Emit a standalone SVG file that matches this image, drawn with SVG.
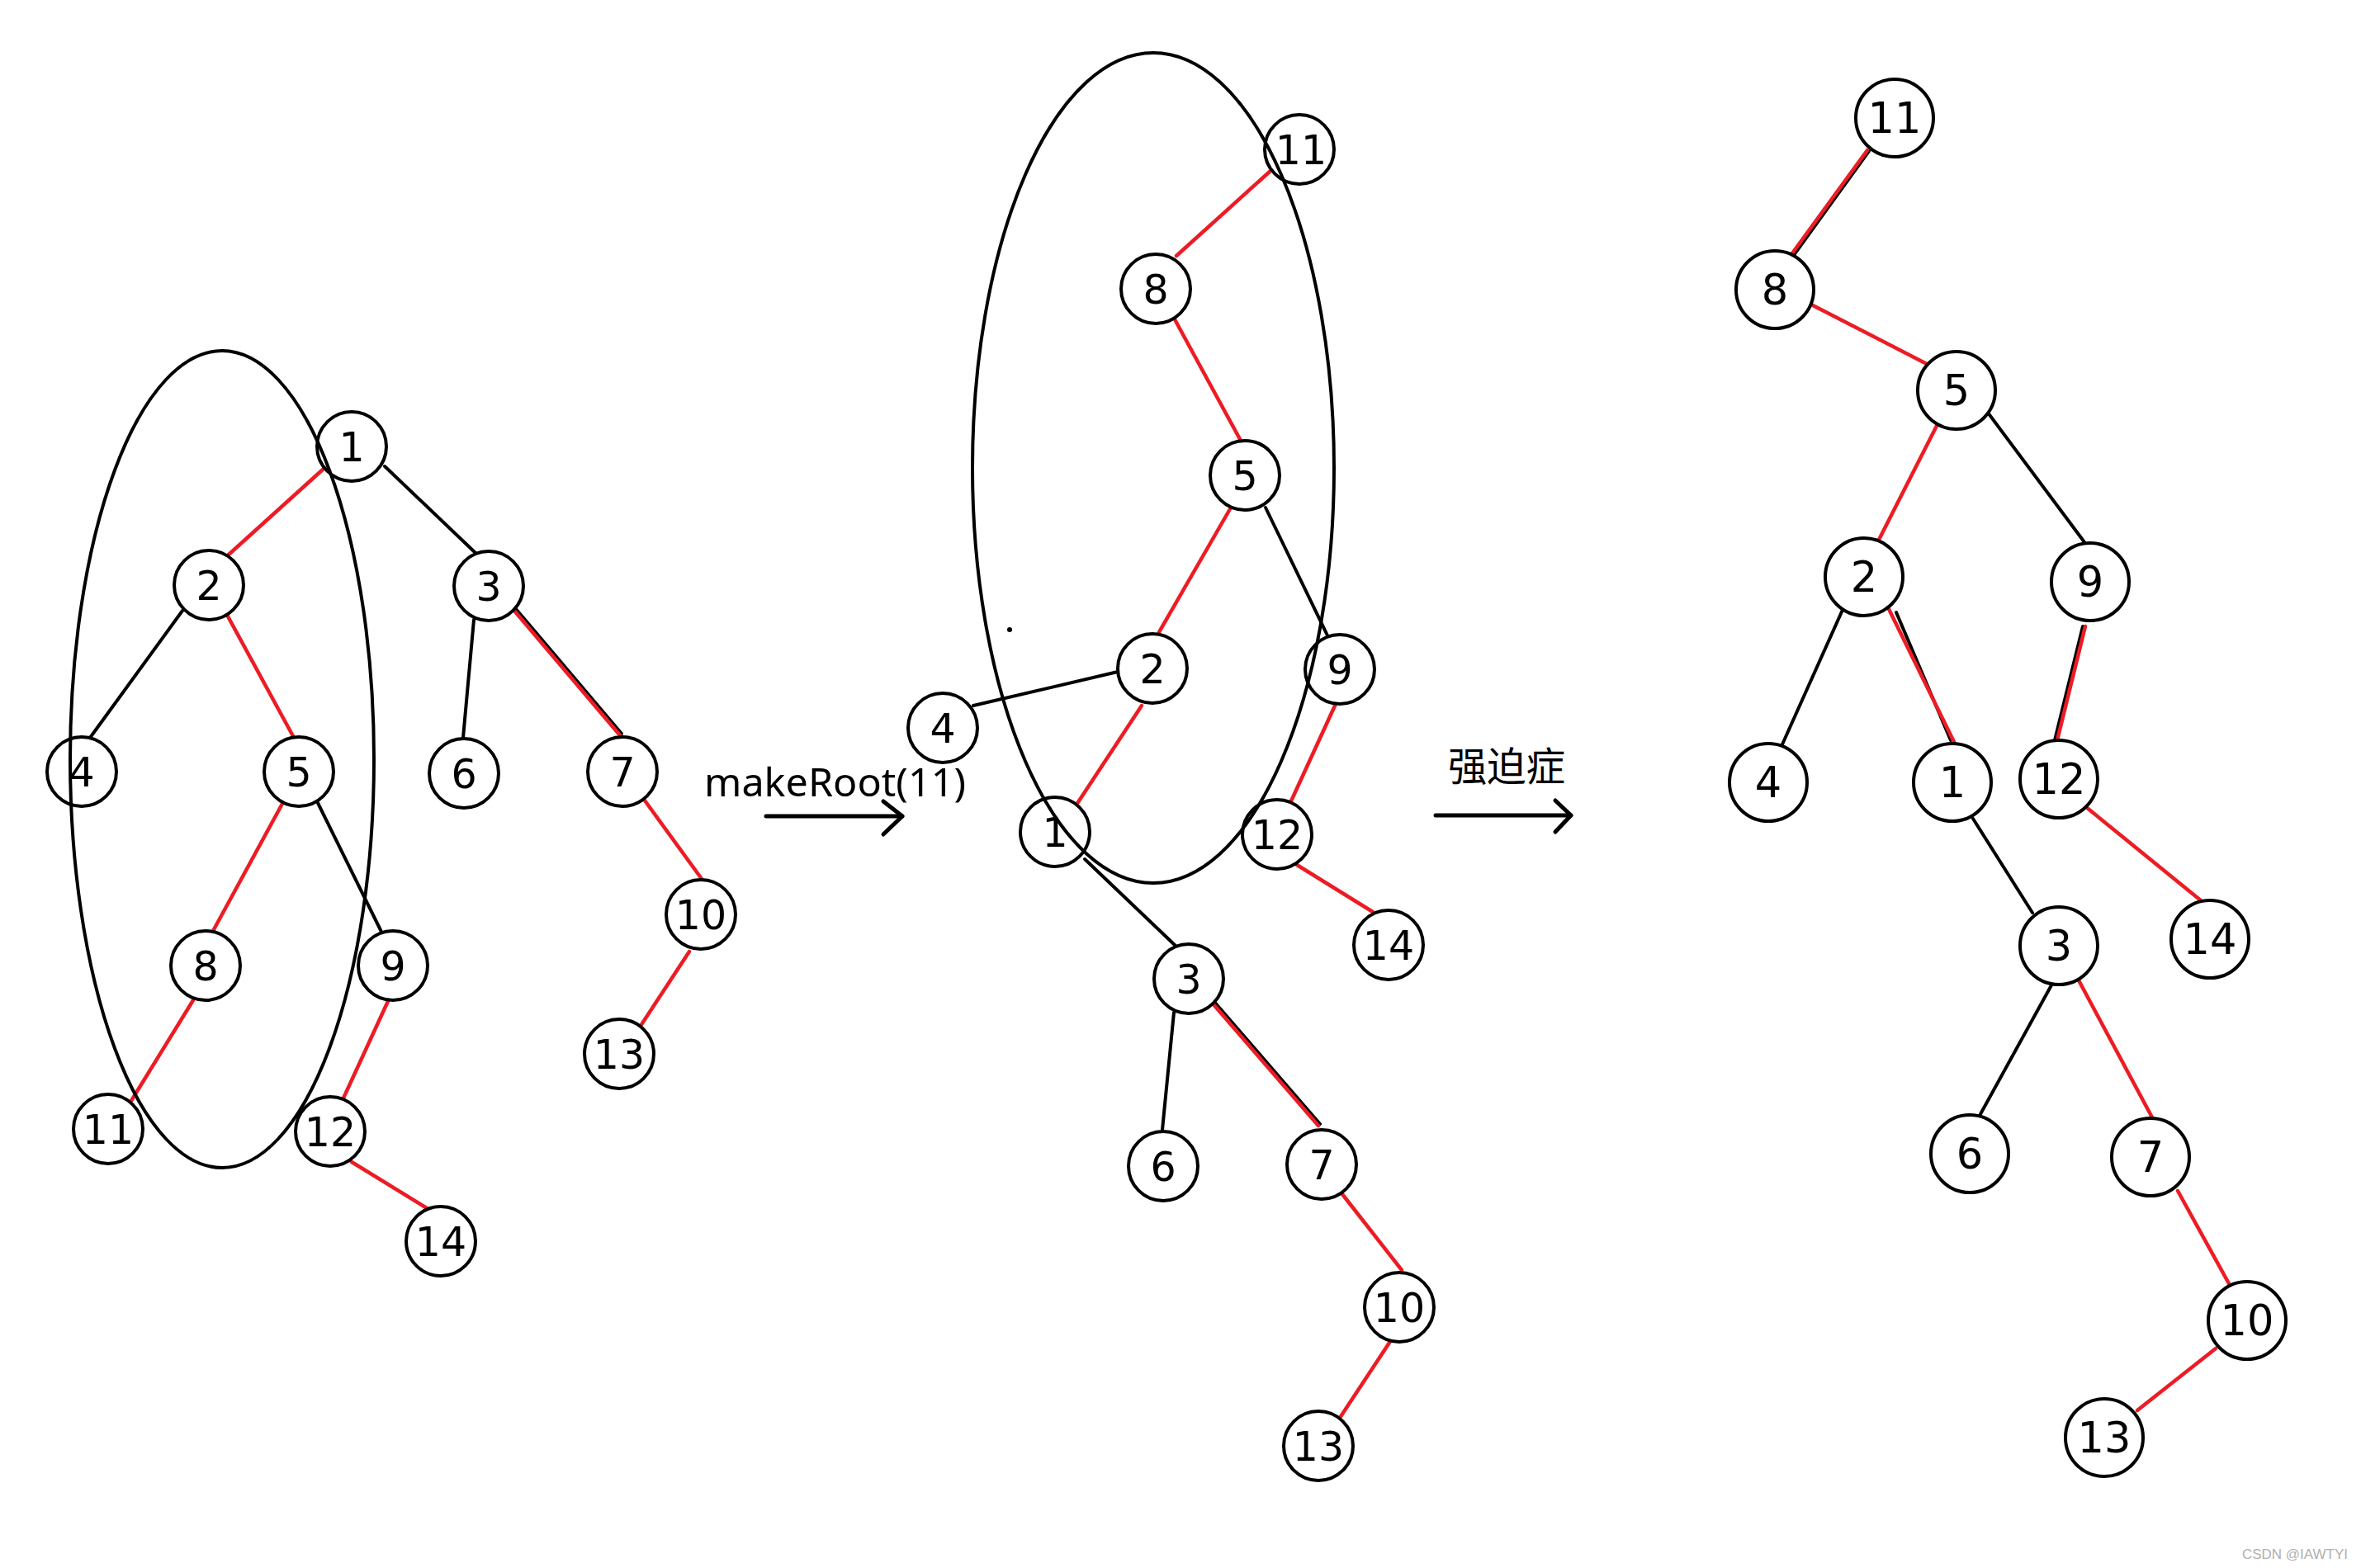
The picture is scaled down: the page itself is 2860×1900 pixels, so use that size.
<svg xmlns="http://www.w3.org/2000/svg" width="2860" height="1900" viewBox="0 0 2860 1900">
<style>
.n{fill:#fff;stroke:#000;stroke-width:4}
.t{font-family:"DejaVu Sans",sans-serif;font-size:49px;text-anchor:middle;fill:#000}
.tr{font-size:51px}
.r{stroke:#ED1C24;stroke-width:4.5;stroke-linecap:round}
.k{stroke:#000;stroke-width:4;stroke-linecap:round}
.e{fill:none;stroke:#000;stroke-width:4}
.a{fill:none;stroke:#000;stroke-width:5;stroke-linecap:round;stroke-linejoin:round}
.lbl{font-family:"Noto Sans","DejaVu Sans",sans-serif;font-size:48px;fill:#000}
</style>
<rect width="2860" height="1900" fill="#fff"/>
<g id="connectors">
<!-- left tree -->
<line class="r" x1="392" y1="568" x2="277" y2="672"/>
<line class="k" x1="466" y1="565" x2="576" y2="670"/>
<line class="k" x1="221" y1="740" x2="109" y2="894"/>
<line class="r" x1="275" y1="745" x2="355" y2="892"/>
<line class="k" x1="574" y1="751" x2="561" y2="894"/>
<line class="k" x1="625" y1="738" x2="753" y2="889"/>
<line class="r" x1="623" y1="740" x2="751" y2="891"/>
<line class="r" x1="343" y1="972" x2="257" y2="1130"/>
<line class="k" x1="385" y1="973" x2="462" y2="1129"/>
<line class="r" x1="781" y1="970" x2="850" y2="1065"/>
<line class="r" x1="234" y1="1212" x2="157" y2="1337"/>
<line class="r" x1="471" y1="1211" x2="414" y2="1335"/>
<line class="r" x1="835" y1="1153" x2="776" y2="1243"/>
<line class="r" x1="426" y1="1408" x2="517" y2="1464"/>
<!-- middle tree -->
<line class="r" x1="1538" y1="208" x2="1425" y2="310"/>
<line class="r" x1="1423" y1="387" x2="1503" y2="534"/>
<line class="r" x1="1491" y1="615" x2="1404" y2="766"/>
<line class="k" x1="1533" y1="615" x2="1608" y2="770"/>
<line class="k" x1="1354" y1="814" x2="1179" y2="855"/>
<line class="r" x1="1383" y1="855" x2="1304" y2="975"/>
<line class="r" x1="1618" y1="853" x2="1562" y2="975"/>
<line class="r" x1="1571" y1="1048" x2="1663" y2="1105"/>
<line class="k" x1="1314" y1="1041" x2="1424" y2="1146"/>
<line class="k" x1="1422" y1="1227" x2="1408" y2="1369"/>
<line class="k" x1="1471" y1="1214" x2="1599" y2="1362"/>
<line class="r" x1="1469" y1="1216" x2="1597" y2="1364"/>
<line class="r" x1="1626" y1="1447" x2="1698" y2="1539"/>
<line class="r" x1="1683" y1="1627" x2="1623" y2="1718"/>
<!-- right tree -->
<line class="k" x1="2264" y1="183" x2="2173" y2="309"/>
<line class="r" x1="2262" y1="182" x2="2171" y2="307"/>
<line class="r" x1="2194" y1="369" x2="2334" y2="441"/>
<line class="r" x1="2346" y1="516" x2="2276" y2="654"/>
<line class="k" x1="2408" y1="500" x2="2525" y2="657"/>
<line class="k" x1="2232" y1="739" x2="2159" y2="902"/>
<line class="k" x1="2297" y1="742" x2="2363" y2="897"/>
<line class="r" x1="2288" y1="738" x2="2367" y2="899"/>
<line class="k" x1="2523" y1="759" x2="2489" y2="897"/>
<line class="r" x1="2526" y1="759" x2="2492" y2="897"/>
<line class="r" x1="2527" y1="978" x2="2667" y2="1092"/>
<line class="k" x1="2390" y1="992" x2="2462" y2="1106"/>
<line class="k" x1="2486" y1="1192" x2="2399" y2="1350"/>
<line class="r" x1="2517" y1="1186" x2="2607" y2="1354"/>
<line class="r" x1="2638" y1="1443" x2="2702" y2="1559"/>
<line class="r" x1="2684" y1="1634" x2="2589" y2="1709"/>
<!-- arrows -->
<line class="a" x1="928" y1="989" x2="1093" y2="989"/>
<polyline class="a" points="1070,971 1093,989 1070,1011"/>
<line class="a" x1="1739" y1="988" x2="1903" y2="988"/>
<polyline class="a" points="1884,970 1903,988 1884,1008"/>
</g>
<!-- left tree nodes -->
<g id="L1"><circle class="n" cx="426" cy="541" r="42"/><text class="t" x="426" y="559">1</text></g>
<g id="L2"><circle class="n" cx="253" cy="709" r="42"/><text class="t" x="253" y="727">2</text></g>
<g id="L3"><circle class="n" cx="592" cy="710" r="42"/><text class="t" x="592" y="728">3</text></g>
<g id="L4"><circle class="n" cx="99" cy="935" r="42"/><text class="t" x="99" y="953">4</text></g>
<g id="L5"><circle class="n" cx="362" cy="935" r="42"/><text class="t" x="362" y="953">5</text></g>
<g id="L6"><circle class="n" cx="562" cy="937" r="42"/><text class="t" x="562" y="955">6</text></g>
<g id="L7"><circle class="n" cx="754" cy="935" r="42"/><text class="t" x="754" y="953">7</text></g>
<g id="L8"><circle class="n" cx="249" cy="1170" r="42"/><text class="t" x="249" y="1188">8</text></g>
<g id="L9"><circle class="n" cx="476" cy="1170" r="42"/><text class="t" x="476" y="1188">9</text></g>
<g id="L10"><circle class="n" cx="849" cy="1108" r="42"/><text class="t" x="849" y="1126">10</text></g>
<g id="L11"><circle class="n" cx="131" cy="1368" r="42"/><text class="t" x="131" y="1386">11</text></g>
<g id="L12"><circle class="n" cx="400" cy="1371" r="42"/><text class="t" x="400" y="1389">12</text></g>
<g id="L13"><circle class="n" cx="750" cy="1277" r="42"/><text class="t" x="750" y="1295">13</text></g>
<g id="L14"><circle class="n" cx="534" cy="1504" r="42"/><text class="t" x="534" y="1522">14</text></g>
<!-- middle tree nodes -->
<g id="M11"><circle class="n" cx="1574" cy="181" r="42"/><text class="t" x="1576" y="199">11</text></g>
<g id="M8"><circle class="n" cx="1400" cy="350" r="42"/><text class="t" x="1400" y="368">8</text></g>
<g id="M5"><circle class="n" cx="1508" cy="576" r="42"/><text class="t" x="1508" y="594">5</text></g>
<g id="M2"><circle class="n" cx="1396" cy="810" r="42"/><text class="t" x="1396" y="828">2</text></g>
<g id="M9"><circle class="n" cx="1623" cy="811" r="42"/><text class="t" x="1623" y="829">9</text></g>
<g id="M4"><circle class="n" cx="1142" cy="882" r="42"/><text class="t" x="1142" y="900">4</text></g>
<g id="M1"><circle class="n" cx="1278" cy="1008" r="42"/><text class="t" x="1278" y="1026">1</text></g>
<g id="M12"><circle class="n" cx="1547" cy="1011" r="42"/><text class="t" x="1547" y="1029">12</text></g>
<g id="M14"><circle class="n" cx="1682" cy="1145" r="42"/><text class="t" x="1682" y="1163">14</text></g>
<g id="M3"><circle class="n" cx="1440" cy="1186" r="42"/><text class="t" x="1440" y="1204">3</text></g>
<g id="M6"><circle class="n" cx="1409" cy="1413" r="42"/><text class="t" x="1409" y="1431">6</text></g>
<g id="M7"><circle class="n" cx="1601" cy="1411" r="42"/><text class="t" x="1601" y="1429">7</text></g>
<g id="M10"><circle class="n" cx="1695" cy="1584" r="42"/><text class="t" x="1695" y="1602">10</text></g>
<g id="M13"><circle class="n" cx="1597" cy="1752" r="42"/><text class="t" x="1597" y="1770">13</text></g>
<!-- right tree nodes -->
<g id="R11"><circle class="n" cx="2295" cy="143" r="47"/><text class="t tr" x="2295" y="161">11</text></g>
<g id="R8"><circle class="n" cx="2150" cy="351" r="47"/><text class="t tr" x="2150" y="369">8</text></g>
<g id="R5"><circle class="n" cx="2370" cy="473" r="47"/><text class="t tr" x="2370" y="491">5</text></g>
<g id="R2"><circle class="n" cx="2258" cy="699" r="47"/><text class="t tr" x="2258" y="717">2</text></g>
<g id="R9"><circle class="n" cx="2532" cy="705" r="47"/><text class="t tr" x="2532" y="723">9</text></g>
<g id="R4"><circle class="n" cx="2142" cy="948" r="47"/><text class="t tr" x="2142" y="966">4</text></g>
<g id="R1"><circle class="n" cx="2365" cy="948" r="47"/><text class="t tr" x="2365" y="966">1</text></g>
<g id="R12"><circle class="n" cx="2494" cy="944" r="47"/><text class="t tr" x="2494" y="962">12</text></g>
<g id="R3"><circle class="n" cx="2494" cy="1146" r="47"/><text class="t tr" x="2494" y="1164">3</text></g>
<g id="R14"><circle class="n" cx="2677" cy="1138" r="47"/><text class="t tr" x="2677" y="1156">14</text></g>
<g id="R6"><circle class="n" cx="2386" cy="1398" r="47"/><text class="t tr" x="2386" y="1416">6</text></g>
<g id="R7"><circle class="n" cx="2605" cy="1402" r="47"/><text class="t tr" x="2605" y="1420">7</text></g>
<g id="R10"><circle class="n" cx="2722" cy="1600" r="47"/><text class="t tr" x="2722" y="1618">10</text></g>
<g id="R13"><circle class="n" cx="2549" cy="1742" r="47"/><text class="t tr" x="2549" y="1760">13</text></g>
<!-- selection ellipses -->
<ellipse class="e" cx="269" cy="920" rx="184" ry="495"/>
<ellipse class="e" cx="1397" cy="567" rx="219" ry="503"/>
<circle cx="1223" cy="763" r="3" fill="#000"/>
<!-- labels -->
<text class="lbl" x="853" y="965" textLength="317" lengthAdjust="spacingAndGlyphs">makeRoot(11)</text>
<text x="1754" y="946" font-family="'Noto Sans CJK SC',sans-serif" font-size="48" textLength="142" lengthAdjust="spacingAndGlyphs" fill="#000">强迫症</text>
<text x="2844" y="1889" font-family="'Liberation Sans',Arial,sans-serif" font-size="17" text-anchor="end" fill="#b0b0b0">CSDN @IAWTYI</text>
</svg>
